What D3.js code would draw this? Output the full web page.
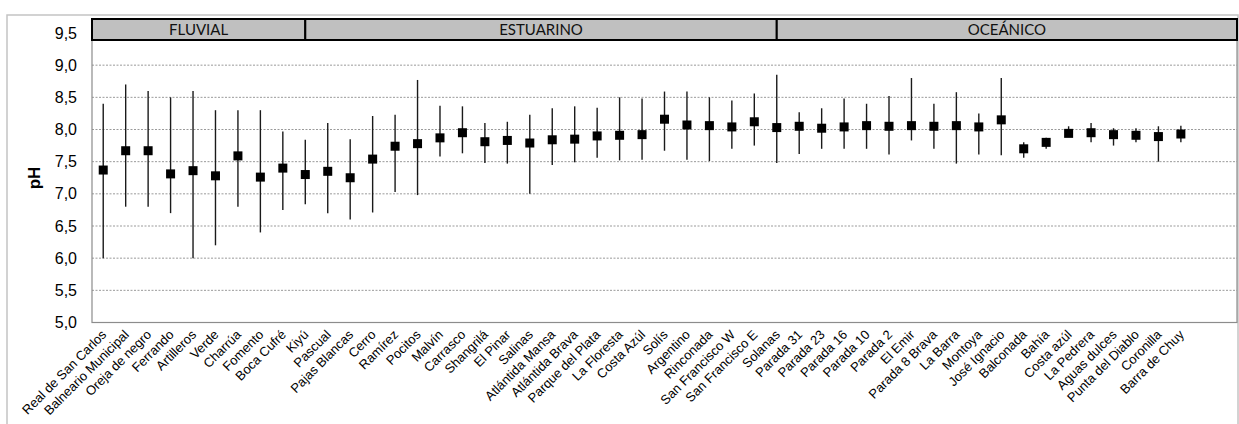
<!DOCTYPE html>
<html><head><meta charset="utf-8">
<script src="https://cdn.jsdelivr.net/npm/d3@7"></script>
<style>body{margin:0;background:#fff}svg{display:block}</style>
</head><body>
<svg id="c" width="1239" height="424"></svg>
<script>
const categories = ["Real de San Carlos","Balneario Municipal","Oreja de negro","Ferrando","Artilleros","Verde","Charrúa","Fomento","Boca Cufré",
"Kiyú","Pascual","Pajas Blancas","Cerro","Ramírez","Pocitos","Malvín","Carrasco","Shangrilá","El Pinar","Salinas","Atlántida Mansa","Atlántida Brava","Parque del Plata","La Floresta","Costa Azúl","Solís","Argentino","Rinconada","San Francisco W","San Francisco E",
"Solanas","Parada 31","Parada 23","Parada 16","Parada 10","Parada 2","El Emir","Parada 8 Brava","La Barra","Montoya","José Ignacio","Balconada","Bahía","Costa azúl","La Pedrera","Aguas dulces","Punta del Diablo","Coronilla","Barra de Chuy"];
const emptySlots = ["_e1","_e2"];
const meanPH = [7.37,7.67,7.67,7.31,7.36,7.28,7.59,7.26,7.40,
7.30,7.35,7.25,7.54,7.74,7.78,7.87,7.95,7.81,7.83,7.79,7.84,7.85,7.90,7.91,7.92,8.16,8.07,8.06,8.04,8.12,
8.03,8.05,8.02,8.04,8.06,8.05,8.06,8.05,8.06,8.04,8.15,7.70,7.80,7.94,7.95,7.92,7.91,7.89,7.93];
const maxPH = [8.40,8.70,8.60,8.50,8.60,8.30,8.30,8.30,7.97,
7.84,8.10,7.85,8.21,8.23,8.77,8.37,8.36,8.10,8.12,8.23,8.33,8.36,8.34,8.50,8.48,8.59,8.59,8.50,8.45,8.56,
8.85,8.27,8.33,8.48,8.40,8.52,8.80,8.40,8.58,8.25,8.80,7.80,7.87,8.05,8.10,8.02,8.02,8.05,8.06];
const minPH = [6.00,6.80,6.80,6.70,6.00,6.20,6.80,6.40,6.75,
6.84,6.70,6.60,6.71,7.03,6.98,7.58,7.63,7.48,7.47,7.00,7.45,7.49,7.56,7.52,7.53,7.67,7.53,7.51,7.70,7.75,
7.48,7.62,7.70,7.70,7.70,7.61,7.83,7.70,7.47,7.61,7.60,7.56,7.70,7.89,7.80,7.75,7.80,7.50,7.80];
const yTicks = [5.0,5.5,6.0,6.5,7.0,7.5,8.0,8.5,9.0,9.5];
const groupNames = ["FLUVIAL","ESTUARINO","OCEÁNICO"];
const groupBounds = ["Kiyú","Solanas"];
const yLabel = "pH";

const svg = d3.select("#c");
const L = 92, R = 1237, T = 19, B = 322.5;

// outer frame
svg.append("rect").attr("x",7).attr("y",15).attr("width",1231).attr("height",420)
  .attr("fill","none").attr("stroke","#c4c4c4").attr("stroke-width",1.5);

const x = d3.scaleBand().domain(categories.concat(emptySlots)).range([L,R]).padding(0);
const y = d3.scaleLinear().domain([5,9.5]).range([B,33]);
const cx = c => x(c) + x.bandwidth()/2;

// grid
svg.append("g").selectAll("line").data(yTicks.filter(v=>v>5 && v<9.5)).join("line")
  .attr("x1",L).attr("x2",R).attr("y1",d=>y(d)).attr("y2",d=>y(d))
  .attr("stroke","#9a9a9a").attr("stroke-width",1).attr("stroke-dasharray","2,1.5");

// plot border
svg.append("rect").attr("x",L).attr("y",T).attr("width",R-L).attr("height",B-T)
  .attr("fill","none").attr("stroke","#8c8c8c").attr("stroke-width",1.2);

// y axis labels
const yAxis = d3.axisLeft(y).tickValues(yTicks).tickSize(0).tickPadding(15)
  .tickFormat(d=>d3.format(".1f")(d).replace(".",","));
const gy = svg.append("g").attr("transform",`translate(${L},0)`).call(yAxis);
gy.select(".domain").remove();
gy.selectAll("text").attr("font-family","'Liberation Sans',Arial,sans-serif").attr("font-size",16).attr("fill","#000");

svg.append("text").attr("transform","translate(40,178) rotate(-90)")
  .attr("text-anchor","middle").attr("font-family","'Liberation Sans',Arial,sans-serif")
  .attr("font-weight","bold").attr("font-size",17).text(yLabel);

// x axis labels
const xAxis = d3.axisBottom(x).tickSize(0).tickPadding(0).tickFormat(d=>emptySlots.includes(d)?"":d);
const gx = svg.append("g").attr("transform",`translate(0,${B})`).call(xAxis);
gx.select(".domain").remove();
gx.selectAll("text").attr("font-family","'Liberation Sans',Arial,sans-serif").attr("font-size",13).attr("fill","#000")
  .attr("text-anchor","end").attr("dy","0").attr("y",0)
  .attr("transform","translate(4,13) rotate(-45)");

// error bars
const data = categories.map((c,i)=>({c, m:meanPH[i], hi:maxPH[i], lo:minPH[i]}));
svg.append("g").selectAll("line").data(data).join("line")
  .attr("x1",d=>cx(d.c)).attr("x2",d=>cx(d.c)).attr("y1",d=>y(d.hi)).attr("y2",d=>y(d.lo))
  .attr("stroke","#1a1a1a").attr("stroke-width",1.4);
const s = 9;
svg.append("g").selectAll("rect").data(data).join("rect")
  .attr("x",d=>cx(d.c)-s/2).attr("y",d=>y(d.m)-s/2).attr("width",s).attr("height",s).attr("fill","#000");

// header band
const edges = [L, cx(groupBounds[0]), cx(groupBounds[1]), R];
const hg = svg.append("g");
groupNames.forEach((g,i)=>{
  hg.append("rect").attr("x",edges[i]).attr("y",T).attr("width",edges[i+1]-edges[i]).attr("height",21)
    .attr("fill","#c0c0c0").attr("stroke","#000").attr("stroke-width",2);
  hg.append("text").attr("x",(edges[i]+edges[i+1])/2).attr("y",T+15.5).attr("text-anchor","middle")
    .attr("font-family","Lato,'Open Sans',sans-serif").attr("font-size",15).attr("fill","#111").text(g);
});
</script>
</body></html>
